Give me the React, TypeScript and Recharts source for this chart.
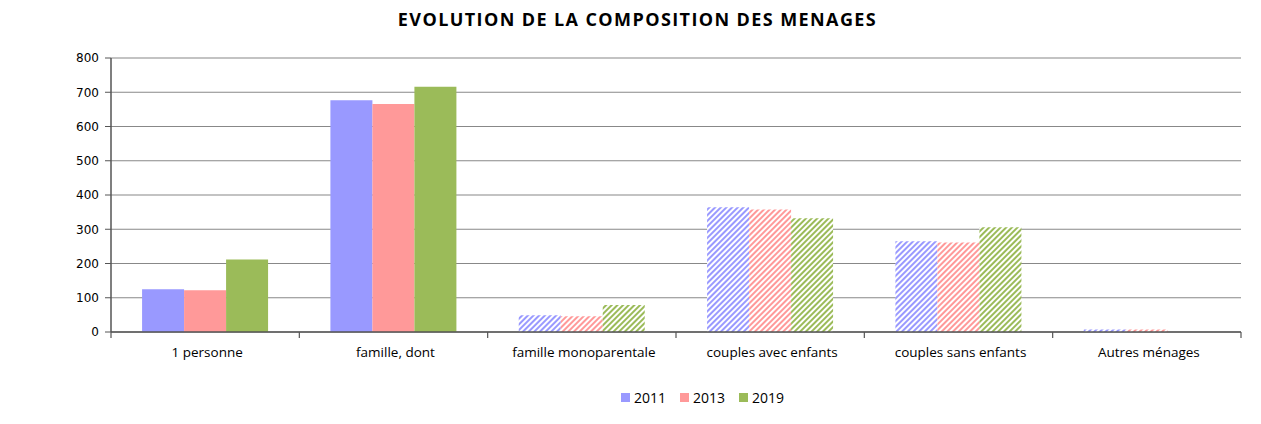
import React from 'react';
import { BarChart, Bar, XAxis, YAxis, CartesianGrid, Legend, Cell } from 'recharts';

const categories = [
  '1 personne',
  'famille, dont',
  'famille monoparentale',
  'couples avec enfants',
  'couples sans enfants',
  'Autres ménages',
];
const values2011 = [125, 677, 49, 364, 265, 7];
const values2013 = [122, 666, 46, 358, 261, 7];
const values2019 = [212, 716, 79, 332, 306, 0];
const hatchedCategories = [false, false, true, true, true, true];
const yTicks = [0, 100, 200, 300, 400, 500, 600, 700, 800];

const series = [
  { key: 'y2011', name: '2011', color: '#9999FF', pattern: 'hatch2011' },
  { key: 'y2013', name: '2013', color: '#FF9999', pattern: 'hatch2013' },
  { key: 'y2019', name: '2019', color: '#9BBB59', pattern: 'hatch2019' },
];

const data = categories.map((name, i) => ({
  name,
  y2011: values2011[i],
  y2013: values2013[i],
  y2019: values2019[i],
  hatched: hatchedCategories[i],
}));

const WIDTH = 1245;
const HEIGHT = 408;
const PLOT_LEFT = 103;
const PLOT_RIGHT = 12;
const HALF_BAND = (WIDTH - PLOT_LEFT - PLOT_RIGHT) / categories.length / 2;

const CategoryTick = (props: any) => {
  const { x, y, payload, index } = props;
  return (
    <g>
      <line x1={x - HALF_BAND} x2={x - HALF_BAND} y1={y} y2={y + 6} stroke="#555" strokeWidth={1.2} />
      {index === categories.length - 1 && (
        <line x1={x + HALF_BAND} x2={x + HALF_BAND} y1={y} y2={y + 6} stroke="#555" strokeWidth={1.2} />
      )}
      <text x={x + 2} y={y + 25} textAnchor="middle" fontSize={13.5} fill="#000" fontFamily="'Open Sans', sans-serif">
        {payload.value}
      </text>
    </g>
  );
};

const LegendContent = () => (
  <div style={{ display: 'flex', justifyContent: 'center', gap: 14, fontFamily: "'Open Sans', sans-serif", fontSize: 14, color: '#000' }}>
    {series.map((s) => (
      <div key={s.key} style={{ display: 'flex', alignItems: 'center' }}>
        <span style={{ display: 'inline-block', width: 9, height: 9, background: s.color, marginRight: 4 }} />
        <span>{s.name}</span>
      </div>
    ))}
  </div>
);

export default function App() {
  return (
    <div style={{ position: 'relative', width: WIDTH, height: HEIGHT }}>
      <div
        style={{
          position: 'absolute',
          top: 0,
          left: 0,
          width: WIDTH,
          textAlign: 'center',
          fontFamily: "'Open Sans', sans-serif",
          fontWeight: 700,
          fontSize: 18,
          letterSpacing: 1.4,
          lineHeight: '22px',
          paddingLeft: 14,
          boxSizing: 'border-box',
        }}
      >
        EVOLUTION DE LA COMPOSITION DES MENAGES
      </div>
      <BarChart
        width={WIDTH}
        height={HEIGHT}
        data={data}
        margin={{ top: 50, right: PLOT_RIGHT, left: 0, bottom: 54 }}
        barCategoryGap="16.5%"
        barGap={0}
      >
        <defs>
          {series.map((s) => (
            <pattern
              key={s.pattern}
              id={s.pattern}
              patternUnits="userSpaceOnUse"
              width={4}
              height={4}
              patternTransform="rotate(45)"
            >
              <rect width={4} height={4} fill="#fff" />
              <rect width={2} height={4} fill={s.color} />
            </pattern>
          ))}
        </defs>
        <CartesianGrid vertical={false} stroke="#888" strokeWidth={1.2} />
        <XAxis
          dataKey="name"
          height={30}
          tickSize={0}
          tickMargin={0}
          interval={0}
          tick={<CategoryTick />}
          axisLine={{ stroke: '#555', strokeWidth: 1.5 }}
        />
        <YAxis
          width={PLOT_LEFT}
          domain={[0, 800]}
          ticks={yTicks}
          interval={0}
          tickSize={6}
          tickMargin={6}
          axisLine={{ stroke: '#555', strokeWidth: 1.5 }}
          tickLine={{ stroke: '#555' }}
          tick={{ fontSize: 12, fill: '#000', fontFamily: "'DejaVu Sans', sans-serif" }}
        />
        <Legend
          layout="horizontal"
          verticalAlign="middle"
          align="center"
          wrapperStyle={{ top: 380, left: 72, width: WIDTH }}
          content={<LegendContent />}
        />
        {series.map((s) => (
          <Bar key={s.key} dataKey={s.key} name={s.name} fill={s.color} isAnimationActive={false}>
            {data.map((d, i) => (
              <Cell key={i} fill={d.hatched ? `url(#${s.pattern})` : s.color} />
            ))}
          </Bar>
        ))}
      </BarChart>
    </div>
  );
}
